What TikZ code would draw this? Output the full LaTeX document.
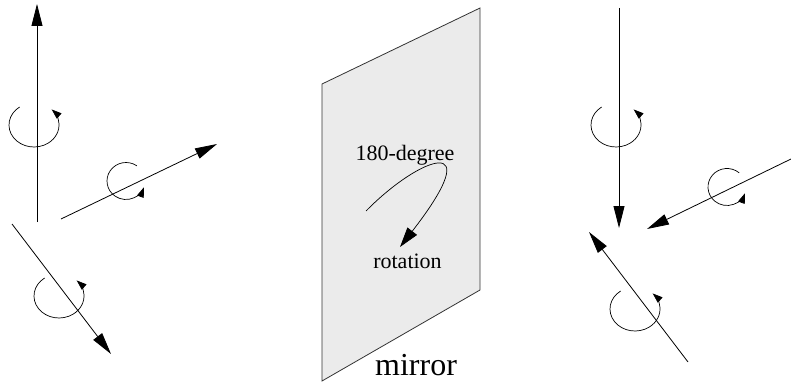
\documentclass[tikz,border=0pt]{standalone}
\usepackage{fontspec}
\setmainfont{Liberation Serif}
\usetikzlibrary{arrows.meta}
\begin{document}
\begin{tikzpicture}[x=1pt,y=1pt,
  axis/.style={line width=0.8pt,-{Triangle[length=22pt,width=11pt]}},
  spin/.style={line width=0.7pt,-{Triangle[length=10pt,width=7pt]}},
  lbl/.style={font=\fontsize{22}{26}\selectfont,anchor=base,inner sep=0pt},
  mirrorface/.style={fill=black!8,draw=black!80,line width=0.8pt}]
\useasboundingbox (0,0) rectangle (791,381);
% mirror
\coordinate (m1) at (322,0);
\coordinate (m2) at (322,297);
\coordinate (m3) at (480,373);
\coordinate (m4) at (480,91);
\draw[mirrorface] (m1) -- (m2) -- (m3) -- (m4) -- cycle;
\node[lbl] (deg) at (405,221) {180-degree};
\node[lbl] (rot) at (407.5,113) {rotation};
\node[font=\fontsize{32}{36}\selectfont,anchor=base west,inner sep=0pt] (mir) at (375,6) {mirror};
\coordinate (c0) at (366,170);
\coordinate (c1) at (400,134);
\draw[line width=0.7pt,-{Triangle[length=20pt,width=12pt]}] (c0) .. controls (420,225) and (490,250) .. (c1);
% left group
\coordinate (la0) at (37,159);  \coordinate (la1) at (37,377);
\draw[axis] (la0) -- (la1);
\coordinate (le1) at (34,256);
\draw[spin] (le1) ++(125:25 and 22) arc[start angle=125,end angle=405,x radius=25,y radius=22];
\coordinate (lb0) at (61,162);  \coordinate (lb1) at (217,237);
\draw[axis] (lb0) -- (lb1);
\coordinate (le2) at (126,200);
\draw[spin] (le2) ++(55:19 and 18.5) arc[start angle=55,end angle=340,x radius=19,y radius=18.5];
\coordinate (lc0) at (12,157);  \coordinate (lc1) at (111,27);
\draw[axis] (lc0) -- (lc1);
\coordinate (le3) at (59,85);
\draw[spin] (le3) ++(125:25 and 22) arc[start angle=125,end angle=405,x radius=25,y radius=22];
% right group
\coordinate (ra0) at (619,373);  \coordinate (ra1) at (619,153);
\draw[axis] (ra0) -- (ra1);
\coordinate (re1) at (616,256);
\draw[spin] (re1) ++(125:25 and 22) arc[start angle=125,end angle=405,x radius=25,y radius=22];
\coordinate (rb0) at (791,222);  \coordinate (rb1) at (647,152);
\draw[axis] (rb0) -- (rb1);
\coordinate (re2) at (727,194);
\draw[spin] (re2) ++(50:19 and 18.5) arc[start angle=50,end angle=340,x radius=19,y radius=18.5];
\coordinate (rc0) at (688,19);  \coordinate (rc1) at (589,149);
\draw[axis] (rc0) -- (rc1);
\coordinate (re3) at (635,72);
\draw[spin] (re3) ++(125:25 and 22) arc[start angle=125,end angle=405,x radius=25,y radius=22];
\end{tikzpicture}
\end{document}
